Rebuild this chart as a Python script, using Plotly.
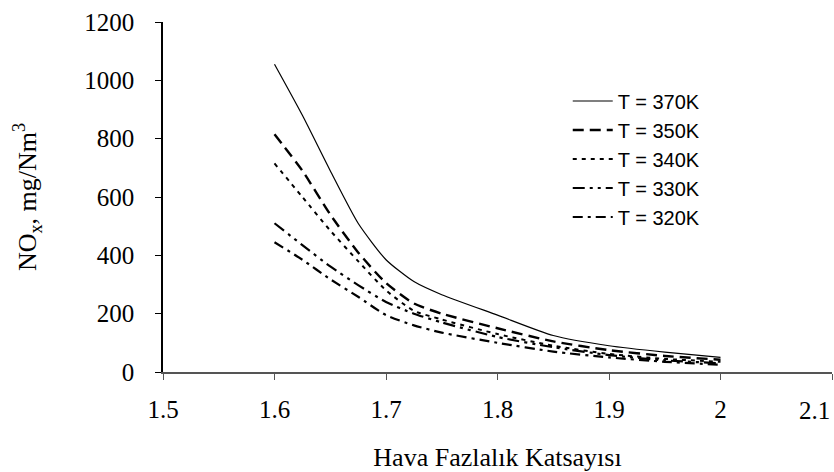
import plotly.graph_objects as go

# Excess air coefficient (x) and NOx concentration (mg/Nm3) per inlet temperature
lambda_vals = [1.6, 1.625, 1.65, 1.675, 1.7, 1.725, 1.75, 1.8, 1.85, 1.9, 1.95, 2.0]

nox_370 = [1055, 880, 690, 510, 385, 310, 265, 195, 125, 90, 68, 50]
nox_350 = [815, 690, 540, 410, 305, 235, 200, 150, 105, 75, 55, 42]
nox_340 = [715, 600, 485, 380, 280, 210, 180, 130, 90, 62, 45, 35]
nox_330 = [510, 435, 362, 298, 240, 200, 170, 120, 85, 58, 40, 30]
nox_320 = [445, 385, 318, 258, 195, 160, 135, 100, 70, 50, 35, 25]

series_names = ["T = 370K", "T = 350K", "T = 340K", "T = 330K", "T = 320K"]
x_ticks = [1.5, 1.6, 1.7, 1.8, 1.9, 2.0, 2.1]
x_tick_text = ["1.5", "1.6", "1.7", "1.8", "1.9", "2", ""]
y_ticks = [0, 200, 400, 600, 800, 1000, 1200]

line_styles = [
    dict(color="black", width=1.2, dash="solid"),
    dict(color="black", width=2.4, dash="11px,6px"),
    dict(color="black", width=2.0, dash="4px,5px"),
    dict(color="black", width=2.2, dash="12px,5px,3px,5px,3px,5px"),
    dict(color="black", width=2.2, dash="10px,5px,3px,5px"),
]

fig = go.Figure()
for name, values, style in zip(
    series_names, [nox_370, nox_350, nox_340, nox_330, nox_320], line_styles
):
    fig.add_trace(
        go.Scatter(
            x=lambda_vals,
            y=values,
            mode="lines",
            name=name,
            line=dict(shape="spline", smoothing=0.6, **style),
        )
    )

serif = "Liberation Serif, Times New Roman, serif"
tick_size = 25
title_size = 26

fig.update_layout(
    width=834,
    height=472,
    margin=dict(l=163, r=2, t=22, b=100),
    paper_bgcolor="white",
    plot_bgcolor="white",
    font=dict(family=serif, size=tick_size, color="black"),
    showlegend=True,
    legend=dict(
        x=0.605,
        y=0.83,
        xanchor="left",
        yanchor="top",
        bgcolor="rgba(0,0,0,0)",
        font=dict(family="Liberation Sans, Arial, sans-serif", size=20, color="black"),
        tracegroupgap=0,
        itemwidth=40,
    ),
    xaxis=dict(
        range=[1.5, 2.1],
        tickvals=x_ticks,
        ticktext=x_tick_text,
        ticks="outside",
        ticklen=6,
        tickcolor="#555",
        showline=True,
        linecolor="#555",
        linewidth=1.5,
        showgrid=False,
        zeroline=False,
        automargin=False,
        ticklabelstandoff=8,
        tickfont=dict(family=serif, size=tick_size),
        title=dict(text="Hava Fazlalık Katsayısı", font=dict(family=serif, size=title_size), standoff=30),
    ),
    yaxis=dict(
        range=[0, 1200],
        tickvals=y_ticks,
        ticks="outside",
        ticklen=6,
        tickcolor="black",
        showline=True,
        linecolor="black",
        linewidth=1.5,
        showgrid=False,
        zeroline=False,
        automargin=False,
        ticklabelstandoff=16,
        tickfont=dict(family=serif, size=tick_size),
        title=dict(text="NO<sub>x</sub>, mg/Nm<sup>3</sup>", font=dict(family=serif, size=title_size), standoff=40),
    ),
)

# Rightmost x tick label, right-aligned so it stays inside the figure
fig.add_annotation(
    x=2.1, y=0, xref="x", yref="y",
    text="2.1", showarrow=False,
    xanchor="right", yanchor="top", yshift=-23,
    font=dict(family=serif, size=tick_size, color="black"),
)

fig.write_html("out.html")
